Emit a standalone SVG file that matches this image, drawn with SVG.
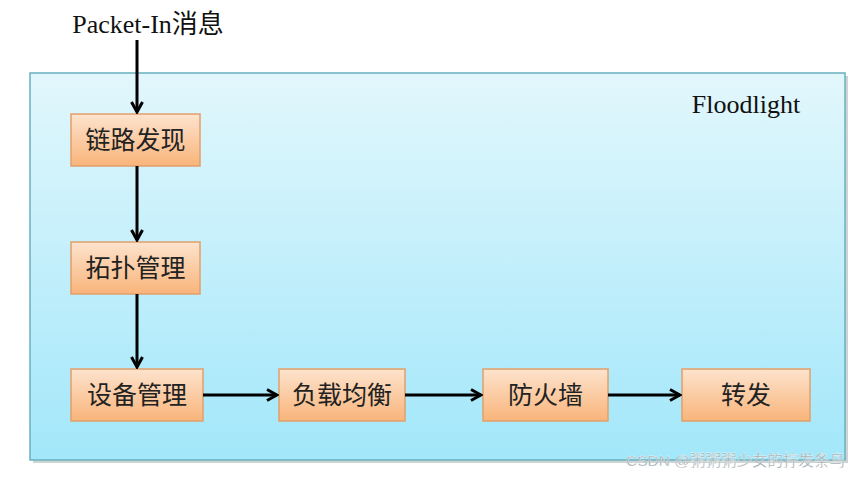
<svg xmlns="http://www.w3.org/2000/svg" width="862" height="477" viewBox="0 0 862 477">
<defs>
<linearGradient id="bg" x1="0" y1="0" x2="0" y2="1">
<stop offset="0" stop-color="#e2f7fc"/>
<stop offset="1" stop-color="#a2e7fa"/>
</linearGradient>
<linearGradient id="nb" x1="0" y1="0" x2="0" y2="1">
<stop offset="0" stop-color="#fde3cd"/>
<stop offset="1" stop-color="#f9b47a"/>
</linearGradient>
<marker id="ah" viewBox="0 0 14 14" refX="12" refY="7" markerWidth="14" markerHeight="14" markerUnits="userSpaceOnUse" orient="auto">
<path d="M2,1.5 L12,7 L2,12.5" fill="none" stroke="#000" stroke-width="3" stroke-linejoin="miter"/>
</marker>
<style>
.node rect{fill:url(#nb);stroke:#e0a06c;stroke-width:1.5}
.node text{font-family:"Liberation Serif","Noto Sans CJK SC",serif;font-size:25px;fill:#222;text-anchor:middle}
.lbl{font-family:"Liberation Serif","Noto Sans CJK SC",serif;font-size:26px;fill:#111}
.conn line{stroke:#000;stroke-width:3;marker-end:url(#ah)}
</style>
</defs>
<rect width="862" height="477" fill="#fff"/>
<g id="floodlight">
<rect x="33" y="76" width="815" height="387" fill="#9aa" opacity="0.5"/>
<rect x="30" y="73" width="815" height="387" fill="url(#bg)" stroke="#6ab0bf" stroke-width="1.5"/>
<text x="746" y="113" class="lbl" text-anchor="middle" font-size="24">Floodlight</text>
</g>
<text x="148" y="33" class="lbl" text-anchor="middle">Packet-In消息</text>
<g id="n1" class="node"><rect x="71" y="114" width="129" height="52"/><text x="135.5" y="149">链路发现</text></g>
<g id="n2" class="node"><rect x="71" y="242" width="129" height="52"/><text x="135.5" y="277">拓扑管理</text></g>
<g id="n3" class="node"><rect x="71" y="369" width="132" height="52"/><text x="137" y="404">设备管理</text></g>
<g id="n4" class="node"><rect x="279" y="369" width="126" height="52"/><text x="342" y="404">负载均衡</text></g>
<g id="n5" class="node"><rect x="483" y="369" width="125" height="52"/><text x="545.5" y="404">防火墙</text></g>
<g id="n6" class="node"><rect x="682" y="369" width="128" height="52"/><text x="746" y="404">转发</text></g>
<g id="connectors" class="conn">
<line x1="137" y1="40" x2="137" y2="112"/>
<line x1="137" y1="166" x2="137" y2="240"/>
<line x1="137" y1="294" x2="137" y2="367"/>
<line x1="203" y1="395" x2="277" y2="395"/>
<line x1="405" y1="395" x2="481" y2="395"/>
<line x1="608" y1="395" x2="680" y2="395"/>
</g>
<text x="845" y="466" text-anchor="end" font-family="'Liberation Sans','Noto Sans CJK SC',sans-serif" font-size="15.5" fill="#9aa6aa" stroke="#ffffff" stroke-width="0.3">CSDN @粥粥粥少女的拧发条鸟</text>
</svg>
